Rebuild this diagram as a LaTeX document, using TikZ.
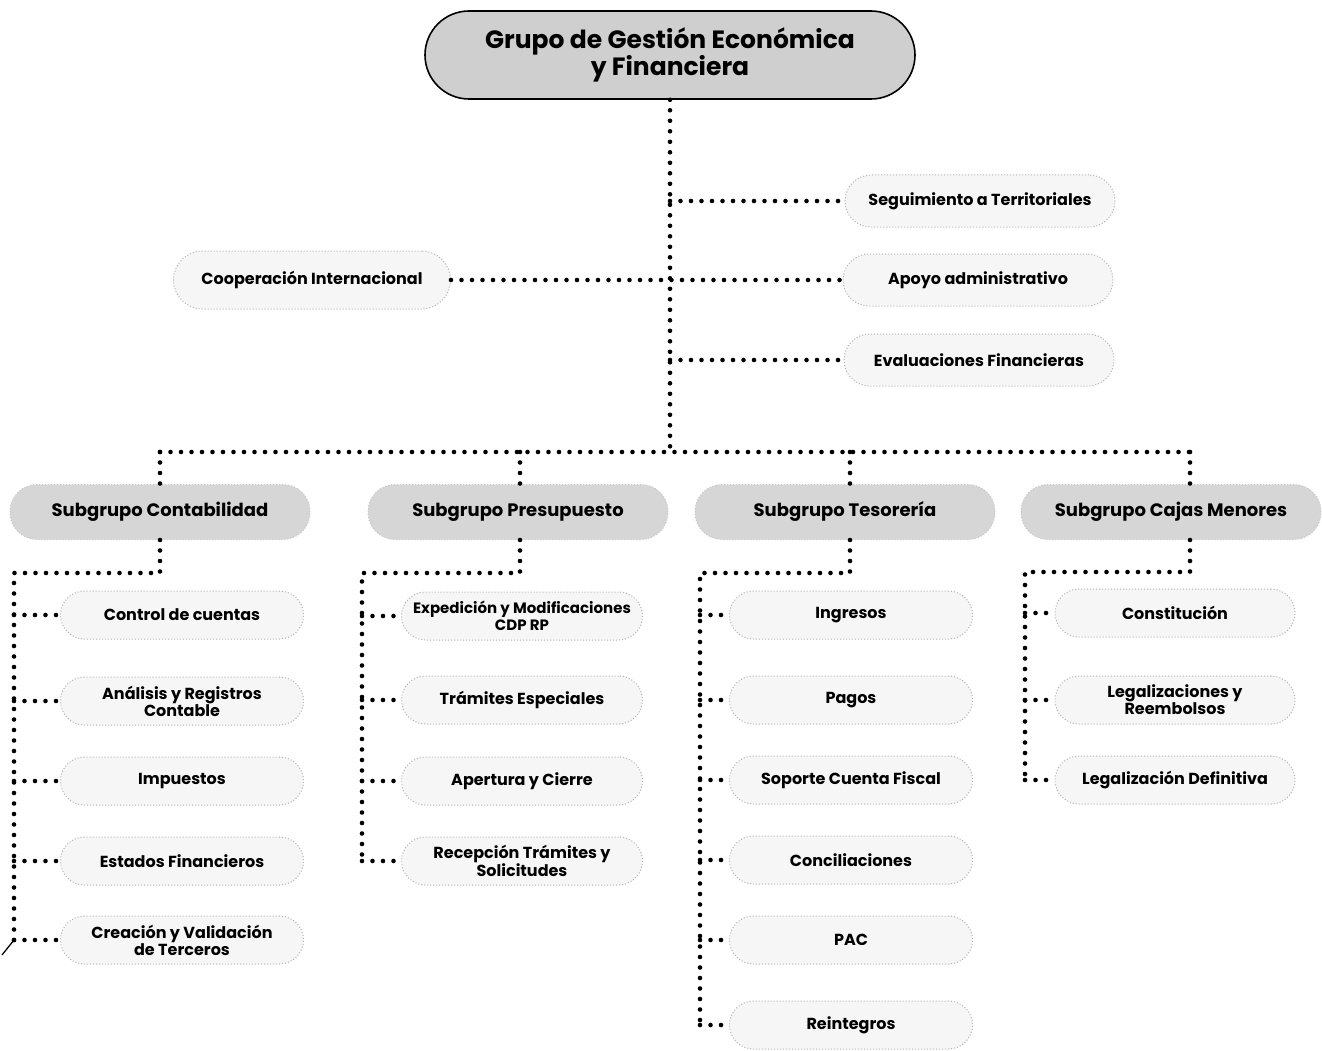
\documentclass[tikz,border=0pt]{standalone}
\usepackage{fontspec}
\setmainfont{Poppins}
\begin{document}
\begin{tikzpicture}[x=1pt,y=-1pt,
  topbox/.style={draw=black,line width=1.6pt,fill=gray!38,rounded corners=44pt,
    minimum width=490pt,minimum height=88pt,align=center,
    font=\fontsize{25}{24}\selectfont\bfseries},
  subbox/.style={draw=gray!45,dotted,line width=1pt,fill=gray!32,rounded corners=27pt,
    minimum width=300pt,minimum height=55pt,align=center,
    font=\fontsize{18}{19}\selectfont\bfseries},
  leafbox/.style={draw=gray!60,dotted,line width=1pt,fill=gray!7,rounded corners=24pt,
    minimum width=243pt,minimum height=48pt,align=center,inner sep=2pt,
    font=\fontsize{16}{17}\selectfont\bfseries},
  rbox/.style={leafbox,minimum width=270pt,minimum height=52pt,rounded corners=26pt},
  conn/.style={draw=black,line width=4.6pt,line cap=round,dash pattern=on 0pt off 10.5pt}
]
\useasboundingbox (0,0) rectangle (1322,1051);
\fill[white] (0,0) rectangle (1322,1051);

% top
\node[topbox] (top) at (670,55) {Grupo de Gestión Económica\\y Financiera};

% right side and cooperation
\node[rbox] (seg) at (980,201) {Seguimiento a Territoriales};
\node[rbox] (apo) at (978,280) {Apoyo administrativo};
\node[rbox] (eva) at (979,360) {Evaluaciones Financieras};
\node[rbox,minimum width=277pt,minimum height=58pt,rounded corners=29pt] (coop) at (312,280) {Cooperación Internacional};

% subgroups
\node[subbox] (sc) at (160,512) {Subgrupo Contabilidad};
\node[subbox] (sp) at (518,512) {Subgrupo Presupuesto};
\node[subbox] (st) at (845,512) {Subgrupo Tesorería};
\node[subbox] (sm) at (1171,512) {Subgrupo Cajas Menores};

% coordinates
\coordinate (bus) at (670,452);
\coordinate (b1) at (160,452);
\coordinate (b2) at (520,452);
\coordinate (b3) at (850,452);
\coordinate (b4) at (1190,452);

% trunk
\draw[conn] (top.south) -- (bus);
\draw[conn] (seg.west -| top.south) -- (seg.west);
\draw[conn] (coop.east) -- (apo.west);
\draw[conn] (eva.west -| top.south) -- (eva.west);
\draw[conn] (b1) -- (b4);
\draw[conn] (b1) -- (sc.north);
\draw[conn] (b2) -- (sp.north -| b2);
\draw[conn] (b3) -- (st.north -| b3);
\draw[conn] (b4) -- (sm.north -| b4);

% Contabilidad
\node[leafbox] (c1) at (182,615) {Control de cuentas};
\node[leafbox] (c2) at (182,701) {Análisis y Registros\\Contable};
\node[leafbox] (c3) at (182,781) {Impuestos};
\node[leafbox] (c4) at (182,861) {Estados Financieros};
\node[leafbox] (c5) at (182,940) {Creación y Validación\\de Terceros};
\coordinate (vc) at (14,573);
\coordinate (vce) at (14,940);
\draw[conn] (sc.south) -- (sc.south |- vc) -- (vc) -- (vce);
\foreach \n in {c1,c2,c3,c4,c5} \draw[conn] (\n.west -| vc) -- (\n.west);
\coordinate (slash) at (2,955);
\draw[line width=1.3pt] (vce) -- (slash);

% Presupuesto
\node[leafbox,minimum width=241pt,font=\fontsize{15}{17}\selectfont\bfseries] (p1) at (522,616) {Expedición y Modificaciones\\CDP RP};
\node[leafbox,minimum width=241pt] (p2) at (522,700) {Trámites Especiales};
\node[leafbox,minimum width=241pt] (p3) at (522,781) {Apertura y Cierre};
\node[leafbox,minimum width=241pt] (p4) at (522,861) {Recepción Trámites y\\Solicitudes};
\coordinate (vp) at (362,573);
\coordinate (b2s) at (520,573);
\draw[conn] (b2 |- sp.south) -- (b2s) -- (vp) -- (vp |- p4.west);
\foreach \n in {p1,p2,p3,p4} \draw[conn] (\n.west -| vp) -- (\n.west);

% Tesoreria
\node[leafbox] (t1) at (851,615) {Ingresos};
\node[leafbox] (t2) at (851,700) {Pagos};
\node[leafbox] (t3) at (851,780) {Soporte Cuenta Fiscal};
\node[leafbox] (t4) at (851,860) {Conciliaciones};
\node[leafbox] (t5) at (851,940) {PAC};
\node[leafbox] (t6) at (851,1025) {Reintegros};
\coordinate (vt) at (700,573);
\coordinate (b3s) at (850,573);
\draw[conn] (b3 |- st.south) -- (b3s) -- (vt) -- (vt |- t6.west);
\foreach \n in {t1,t2,t3,t4,t5,t6} \draw[conn] (\n.west -| vt) -- (\n.west);

% Cajas Menores
\node[leafbox,minimum width=240pt] (m1) at (1175,613) {Constitución};
\node[leafbox,minimum width=240pt] (m2) at (1175,700) {Legalizaciones y\\Reembolsos};
\node[leafbox,minimum width=240pt] (m3) at (1175,780) {Legalización Definitiva};
\coordinate (vm) at (1025,572);
\coordinate (b4s) at (1190,572);
\draw[conn] (b4 |- sm.south) -- (b4s) -- (vm) -- (vm |- m3.west);
\foreach \n in {m1,m2,m3} \draw[conn] (\n.west -| vm) -- (\n.west);
\end{tikzpicture}
\end{document}
